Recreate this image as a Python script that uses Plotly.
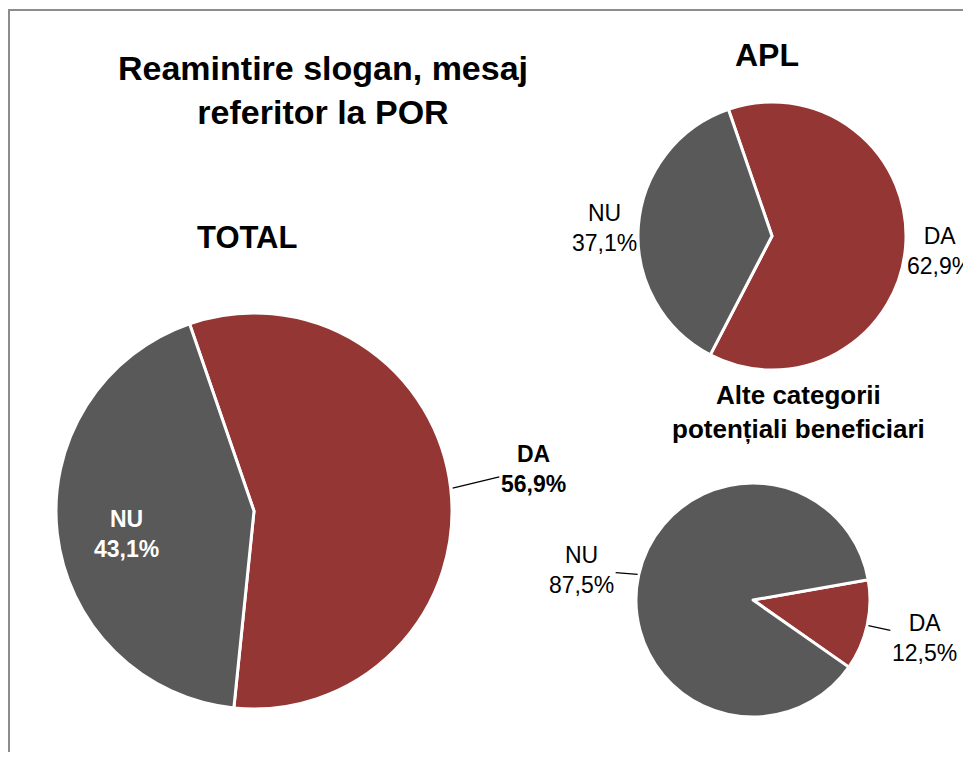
import math
import plotly.graph_objects as go

labels = ['DA', 'NU']
total_values = [56.9, 43.1]
apl_values = [62.9, 37.1]
alte_values = [12.5, 87.5]

main_title = 'Reamintire slogan, mesaj<br>referitor la POR'
total_title = 'TOTAL'
apl_title = 'APL'
alte_title = 'Alte categorii<br>potențiali beneficiari'

colors = ['#943634', '#595959']
font = 'Arial, Liberation Sans, sans-serif'

# the page body has an 8px margin; keep the figure inside the window so no scrollbar shrinks it
OFF = 8
W, H = 971 - 2 * OFF, 760 - 2 * OFF


def px(x):
    return (x - OFF) / W


def py(y):
    return 1 - (y - OFF) / H


def dom(cx, cy, r):
    return dict(x=[px(cx - r), px(cx + r)], y=[py(cy + r), py(cy - r)])


fig = go.Figure()


def add_pie(values, cx, cy, r, rotation, spots, bold=False):
    fig.add_trace(go.Pie(
        labels=labels, values=values, sort=False, direction='clockwise', rotation=rotation,
        marker=dict(colors=colors, line=dict(color='white', width=3)),
        textinfo='none', domain=dom(cx, cy, r),
        hoverinfo='label+percent', showlegend=False,
    ))
    # data labels, placed like Excel does: along the middle of each slice
    total = sum(values)
    start = rotation
    for lab, v, (where, f, leader, dy) in zip(labels, values, spots):
        span = 360 * v / total
        mid = math.radians(start + span / 2)
        start += span
        lx, ly = cx + f * r * math.sin(mid), cy - f * r * math.cos(mid) + dy
        txt = f'{lab}<br>{v:.1f}%'.replace('.', ',')
        if bold:
            txt = '<b>' + txt + '</b>'
        color = 'white' if where == 'in' else 'black'
        tfont = dict(family=font, size=23, color=color)
        if leader:
            ex, ey = cx + 1.01 * r * math.sin(mid), cy - 1.01 * r * math.cos(mid)
            fig.add_annotation(text=txt, x=px(ex), y=py(ey), ax=lx - ex, ay=ly - ey, xref='paper', yref='paper',
                               showarrow=True, arrowhead=0, arrowwidth=1.2, arrowcolor='black', standoff=0,
                               font=tfont)
        else:
            fig.add_annotation(text=txt, x=px(lx), y=py(ly), xref='paper', yref='paper', showarrow=False,
                               xanchor='center', yanchor='middle', font=tfont)


add_pie(total_values, 254, 511, 198, -19, [('out', 1.42, True, -10), ('in', 0.65, False, 8)], bold=True)
add_pie(apl_values, 772, 236, 134, -19, [('out', 1.25, False, 3), ('out', 1.25, False, 4)])
add_pie(alte_values, 753, 600, 117, 80, [('out', 1.5, True, 0), ('out', 1.5, True, 8)])

# titles
fig.add_annotation(text='<b>' + main_title + '</b>', x=px(323), y=py(90), xanchor='center', yanchor='middle',
                   xref='paper', yref='paper', showarrow=False, font=dict(family=font, size=34, color='black'))
fig.add_annotation(text='<b>' + total_title + '</b>', x=px(247), y=py(237), xanchor='center', yanchor='middle',
                   xref='paper', yref='paper', showarrow=False, font=dict(family=font, size=31, color='black'))
fig.add_annotation(text='<b>' + apl_title + '</b>', x=px(767), y=py(55), xanchor='center', yanchor='middle',
                   xref='paper', yref='paper', showarrow=False, font=dict(family=font, size=32, color='black'))
fig.add_annotation(text='<b>' + alte_title + '</b>', x=px(798), y=py(412), xanchor='center', yanchor='middle',
                   xref='paper', yref='paper', showarrow=False, font=dict(family=font, size=26, color='black'))

# chart border (only its left and top sides are in view)
fig.add_shape(type='rect', xref='paper', yref='paper', x0=px(9), y0=-0.05, x1=1.05, y1=py(10),
              line=dict(color='#8c8c8c', width=2))

fig.update_layout(
    width=W, height=H,
    margin=dict(l=0, r=0, t=0, b=0),
    paper_bgcolor='white', plot_bgcolor='white',
    font=dict(family=font),
)

fig.write_html('out.html')
